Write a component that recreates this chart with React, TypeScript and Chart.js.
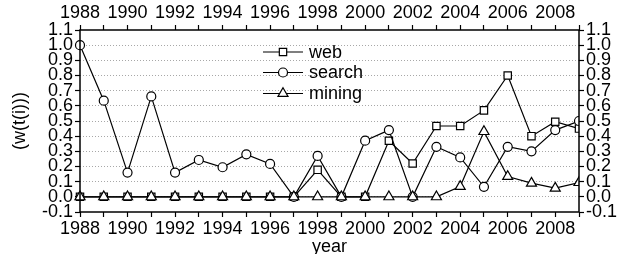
import React, { useEffect, useRef } from "react";
import { Chart, registerables } from "chart.js";

Chart.register(...registerables);

const years = [1988, 1989, 1990, 1991, 1992, 1993, 1994, 1995, 1996, 1997, 1998, 1999, 2000, 2001, 2002, 2003, 2004, 2005, 2006, 2007, 2008, 2009];
const webValues = [0, 0, 0, 0, 0, 0, 0, 0, 0, 0, 0.178, 0, 0, 0.37, 0.22, 0.467, 0.467, 0.57, 0.8, 0.4, 0.495, 0.45];
const searchValues = [1.0, 0.634, 0.16, 0.662, 0.16, 0.243, 0.195, 0.28, 0.217, 0, 0.27, 0, 0.37, 0.44, 0, 0.33, 0.26, 0.066, 0.33, 0.3, 0.44, 0.5];
const miningValues = [0, 0, 0, 0, 0, 0, 0, 0, 0, 0, 0, 0, 0, 0, 0, 0, 0.068, 0.43, 0.134, 0.09, 0.057, 0.094];
const seriesNames = ["web", "search", "mining"];
const yMin = -0.1;
const yMax = 1.1;
const xMin = 1988;
const xMax = 2009;

const FONT = "'Liberation Sans', Arial, Helvetica, sans-serif";
const FS = 18;

function drawMarker(ctx: CanvasRenderingContext2D, style: string, x: number, y: number, r: number) {
  ctx.beginPath();
  if (style === "rect") {
    const s = Math.SQRT1_2 * r;
    ctx.rect(x - s, y - s, 2 * s, 2 * s);
  } else if (style === "circle") {
    ctx.arc(x, y, r, 0, Math.PI * 2);
  } else {
    const h = r * 1.5;
    const side = h * 2 / Math.sqrt(3);
    ctx.moveTo(x, y - r);
    ctx.lineTo(x + side / 2, y - r + h);
    ctx.lineTo(x - side / 2, y - r + h);
    ctx.closePath();
  }
  ctx.fillStyle = "#fff";
  ctx.fill();
  ctx.stroke();
}

const legendPlugin = {
  id: "customLegend",
  afterDatasetsDraw(chart: any) {
    const ctx = chart.ctx as CanvasRenderingContext2D;
    const rows = [52, 72.5, 93.5];
    ctx.save();
    chart.data.datasets.forEach((ds: any, i: number) => {
      const y = rows[i];
      ctx.strokeStyle = "#000";
      ctx.lineWidth = 1.2;
      ctx.beginPath();
      ctx.moveTo(263, y);
      ctx.lineTo(303, y);
      ctx.stroke();
      drawMarker(ctx, ds.pointStyle, 283, y, ds.pointRadius);
      ctx.fillStyle = "#000";
      ctx.font = `${FS}px ${FONT}`;
      ctx.textAlign = "left";
      ctx.textBaseline = "middle";
      ctx.fillText(ds.label, 309, y + 1);
    });
    ctx.restore();
  },
};

const framePlugin = {
  id: "frame",
  afterDraw(chart: any) {
    const { left, right, top, bottom } = chart.chartArea;
    const ctx = chart.ctx as CanvasRenderingContext2D;
    ctx.save();
    ctx.strokeStyle = "#000";
    ctx.lineWidth = 1.5;
    ctx.setLineDash([]);
    ctx.strokeRect(left, top, right - left, bottom - top);
    ctx.restore();
  },
};

export default function App() {
  const ref = useRef<HTMLCanvasElement | null>(null);
  useEffect(() => {
    if (!ref.current) return;
    const mk = (name: string, vals: number[], style: string, r: number, order: number) => ({
      label: name,
      data: years.map((y, i) => ({ x: y, y: vals[i] })),
      borderColor: "#000",
      borderWidth: 1.2,
      backgroundColor: "#fff",
      pointStyle: style,
      pointRadius: r,
      pointBorderWidth: 1.2,
      pointBackgroundColor: "#fff",
      pointBorderColor: "#000",
      tension: 0,
      order,
      clip: { left: 10, top: 10, right: 0, bottom: 10 },
    });
    const xTicks = {
      stepSize: 1,
      autoSkip: false,
      maxRotation: 0,
      color: "#000",
      font: { family: FONT, size: FS },
      padding: 1,
      callback: (v: any) => (Number(v) % 2 === 0 ? String(v) : ""),
    };
    const yTicks = {
      stepSize: 0.1,
      autoSkip: false,
      color: "#000",
      font: { family: FONT, size: FS, lineHeight: 1 },
      padding: 2,
      callback: (v: any) => Number(v).toFixed(1),
    };
    const chart = new Chart(ref.current, {
      type: "line",
      data: {
        datasets: [
          mk(seriesNames[0], webValues, "rect", 5.2, 2),
          mk(seriesNames[1], searchValues, "circle", 4.5, 1),
          mk(seriesNames[2], miningValues, "triangle", 5.8, 0),
        ],
      },
      plugins: [legendPlugin, framePlugin],
      options: {
        animation: false,
        responsive: false,
        devicePixelRatio: 1,
        layout: { padding: 0 },
        plugins: { legend: { display: false }, tooltip: { enabled: false } },
        scales: {
          x: {
            type: "linear",
            position: "bottom",
            min: xMin,
            max: xMax,
            ticks: xTicks,
            grid: { drawOnChartArea: false, tickLength: 5, tickColor: "#000", tickWidth: 1.2 },
            border: { display: false },
            title: { display: true, text: "year", color: "#000", font: { family: FONT, size: FS, lineHeight: 0.8 }, padding: { top: 0, bottom: 0 } },
            afterFit: (s: any) => { s.height = 42; },
          },
          x2: {
            type: "linear",
            position: "top",
            min: xMin,
            max: xMax,
            ticks: xTicks,
            grid: { drawOnChartArea: false, tickLength: 5, tickColor: "#000", tickWidth: 1.2 },
            border: { display: false },
            afterFit: (s: any) => { s.height = 30; },
          },
          y: {
            type: "linear",
            position: "left",
            min: yMin,
            max: yMax,
            ticks: yTicks,
            grid: {
              drawOnChartArea: true,
              color: (c: any) => (c.tick && (Math.abs(c.tick.value - yMin) < 1e-6 || Math.abs(c.tick.value - yMax) < 1e-6) ? "rgba(0,0,0,0)" : "#a8a8a8"),
              lineWidth: 1,
              tickLength: 5,
              tickColor: "#000",
              tickWidth: 1.2,
            },
            border: { display: false, dash: [1, 2] },
            title: { display: true, text: "(w(t(i)))", color: "#000", font: { family: FONT, size: FS }, padding: { top: 9, bottom: 0 } },
            afterFit: (s: any) => { s.width = 80; },
          },
          y2: {
            type: "linear",
            position: "right",
            min: yMin,
            max: yMax,
            ticks: yTicks,
            grid: { drawOnChartArea: false, tickLength: 5, tickColor: "#000", tickWidth: 1.2 },
            border: { display: false },
            afterFit: (s: any) => { s.width = 44; },
          },
        },
      },
    } as any);
    return () => chart.destroy();
  }, []);
  return (
    <div style={{ position: "fixed", left: 0, top: 0, width: 623, height: 254, background: "#fff" }}>
      <canvas ref={ref} width={623} height={254} style={{ width: 623, height: 254 }} />
    </div>
  );
}
